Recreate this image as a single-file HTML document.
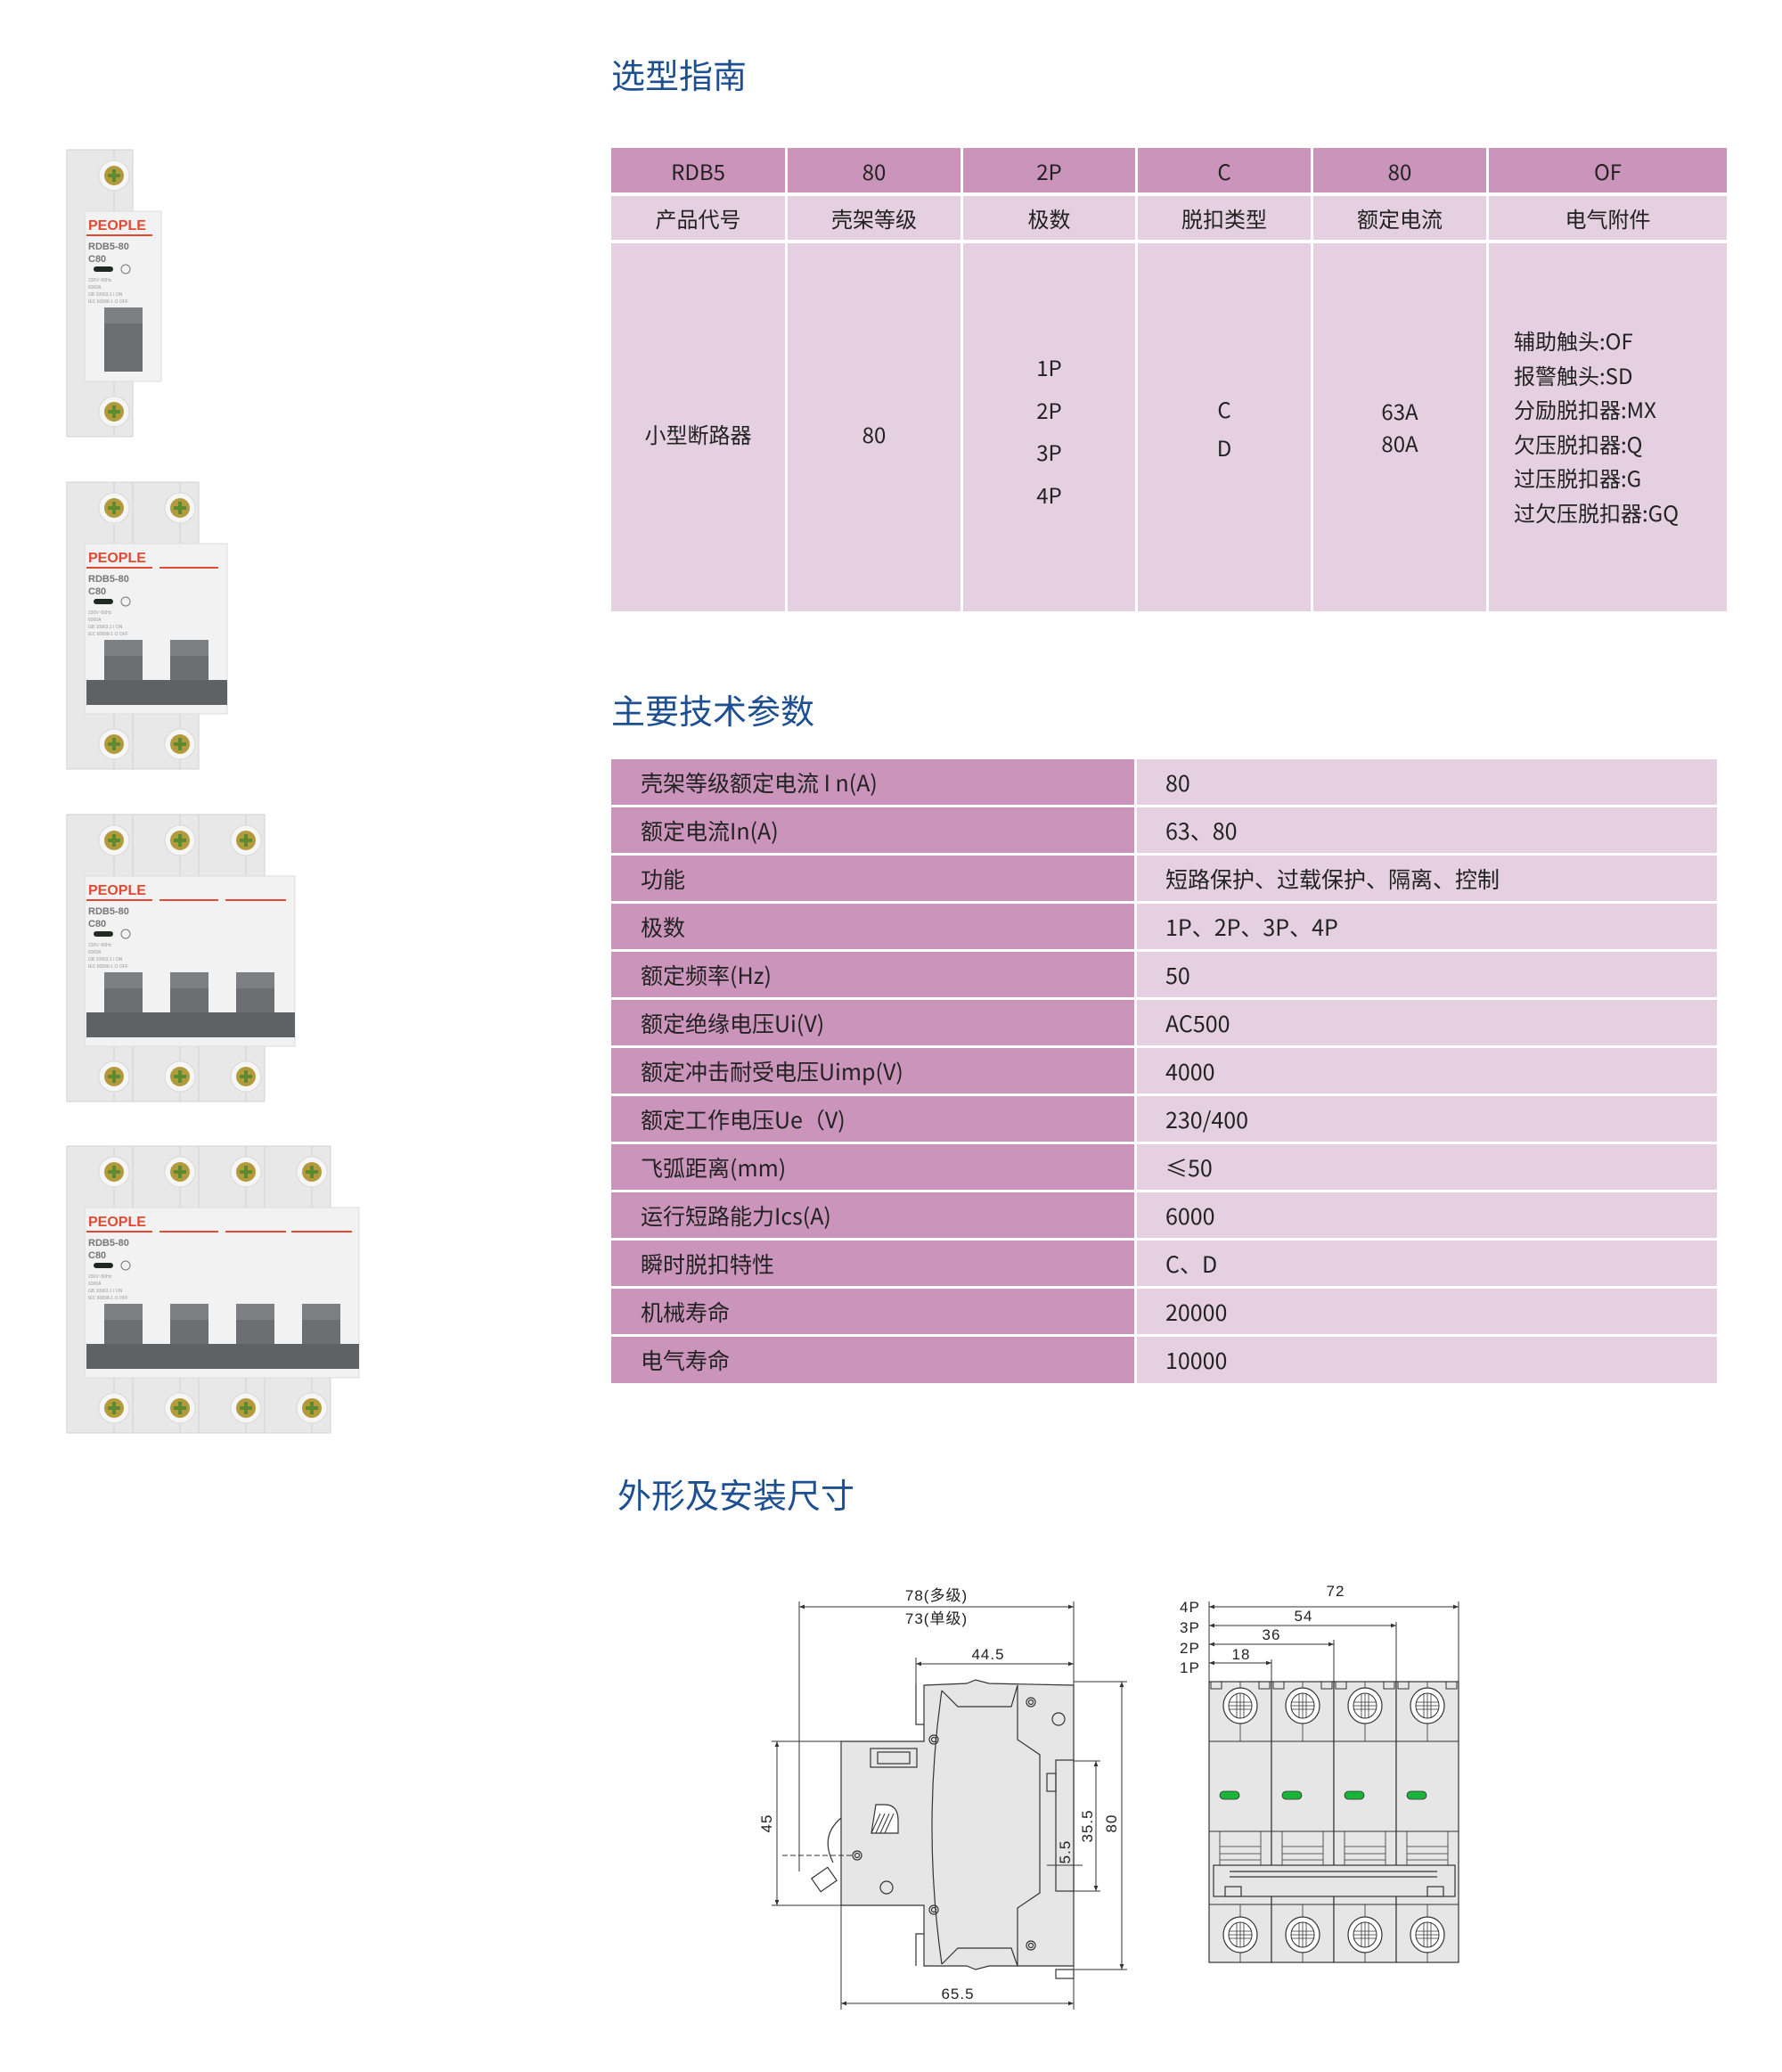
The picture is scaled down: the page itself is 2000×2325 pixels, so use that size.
<!DOCTYPE html>
<html><head><meta charset="utf-8">
<style>
*{margin:0;padding:0;box-sizing:border-box}
body{width:2000px;height:2325px;background:#fff;position:relative;overflow:hidden;font-family:"Liberation Sans","Noto Sans CJK SC",sans-serif;color:#222}
.t{position:absolute;font-size:38px;color:#1d4f91;font-family:"Noto Sans CJK SC","Liberation Sans",sans-serif;line-height:1}
.c{position:absolute;display:flex;align-items:center;justify-content:center;font-size:24px;font-family:"Noto Sans CJK SC","Liberation Sans",sans-serif}
.h{background:#cb95bb}.l{background:#e4d0e0}
.r{position:absolute;display:flex;align-items:center;font-size:25px;font-family:"Noto Sans CJK SC","Liberation Sans",sans-serif}
.a{left:686px;width:587px;background:#cb95bb;padding-left:33px}
.b{left:1276px;width:651px;background:#e4d0e0;padding-left:32px}
.m{position:absolute;font-size:24px;line-height:38.6px;font-family:"Noto Sans CJK SC","Liberation Sans",sans-serif}
</style></head><body>

<div class="t" style="left:686px;top:64px">选型指南</div>
<div class="t" style="left:686px;top:777px">主要技术参数</div>
<div class="t" style="left:693px;top:1657px">外形及安装尺寸</div>

<!-- table 1 -->
<div class="c h" style="left:686px;top:166px;width:195px;height:50px">RDB5</div>
<div class="c h" style="left:884px;top:166px;width:194px;height:50px">80</div>
<div class="c h" style="left:1081px;top:166px;width:193px;height:50px">2P</div>
<div class="c h" style="left:1277px;top:166px;width:194px;height:50px">C</div>
<div class="c h" style="left:1474px;top:166px;width:194px;height:50px">80</div>
<div class="c h" style="left:1671px;top:166px;width:267px;height:50px">OF</div>

<div class="c l" style="left:686px;top:220px;width:195px;height:49px">产品代号</div>
<div class="c l" style="left:884px;top:220px;width:194px;height:49px">壳架等级</div>
<div class="c l" style="left:1081px;top:220px;width:193px;height:49px">极数</div>
<div class="c l" style="left:1277px;top:220px;width:194px;height:49px">脱扣类型</div>
<div class="c l" style="left:1474px;top:220px;width:194px;height:49px">额定电流</div>
<div class="c l" style="left:1671px;top:220px;width:267px;height:49px">电气附件</div>

<div class="c l" style="left:686px;top:273px;width:195px;height:413px;padding-bottom:0">
  <span style="position:relative;top:7px">小型断路器</span></div>
<div class="c l" style="left:884px;top:273px;width:194px;height:413px"><span style="position:relative;top:7px">80</span></div>
<div class="l" style="position:absolute;left:1081px;top:273px;width:193px;height:413px"></div>
<div class="l" style="position:absolute;left:1277px;top:273px;width:194px;height:413px"></div>
<div class="l" style="position:absolute;left:1474px;top:273px;width:194px;height:413px"></div>
<div class="l" style="position:absolute;left:1671px;top:273px;width:267px;height:413px"></div>
<div class="m" style="left:1081px;width:193px;top:388px;text-align:center;line-height:47.6px">1P<br>2P<br>3P<br>4P</div>
<div class="m" style="left:1277px;width:194px;top:437px;text-align:center;line-height:43px">C<br>D</div>
<div class="m" style="left:1474px;width:194px;top:443px;text-align:center;line-height:36px">63A<br>80A</div>
<div class="m" style="left:1699px;top:363px">辅助触头:OF<br>报警触头:SD<br>分励脱扣器:MX<br>欠压脱扣器:Q<br>过压脱扣器:G<br>过欠压脱扣器:GQ</div>

<!-- table 2 -->
<div class="r a" style="top:852px;height:51px">壳架等级额定电流 I n(A)</div><div class="r b" style="top:852px;height:51px">80</div>
<div class="r a" style="top:906px;height:51px">额定电流In(A)</div><div class="r b" style="top:906px;height:51px">63、80</div>
<div class="r a" style="top:960px;height:51px">功能</div><div class="r b" style="top:960px;height:51px">短路保护、过载保护、隔离、控制</div>
<div class="r a" style="top:1014px;height:51px">极数</div><div class="r b" style="top:1014px;height:51px">1P、2P、3P、4P</div>
<div class="r a" style="top:1068px;height:51px">额定频率(Hz)</div><div class="r b" style="top:1068px;height:51px">50</div>
<div class="r a" style="top:1122px;height:51px">额定绝缘电压Ui(V)</div><div class="r b" style="top:1122px;height:51px">AC500</div>
<div class="r a" style="top:1176px;height:51px">额定冲击耐受电压Uimp(V)</div><div class="r b" style="top:1176px;height:51px">4000</div>
<div class="r a" style="top:1230px;height:51px">额定工作电压Ue（V)</div><div class="r b" style="top:1230px;height:51px">230/400</div>
<div class="r a" style="top:1284px;height:51px">飞弧距离(mm)</div><div class="r b" style="top:1284px;height:51px">≤50</div>
<div class="r a" style="top:1338px;height:51px">运行短路能力Ics(A)</div><div class="r b" style="top:1338px;height:51px">6000</div>
<div class="r a" style="top:1392px;height:51px">瞬时脱扣特性</div><div class="r b" style="top:1392px;height:51px">C、D</div>
<div class="r a" style="top:1446px;height:51px">机械寿命</div><div class="r b" style="top:1446px;height:51px">20000</div>
<div class="r a" style="top:1500px;height:52px">电气寿命</div><div class="r b" style="top:1500px;height:52px">10000</div>

<svg width="2000" height="2325" style="position:absolute;left:0;top:0" xmlns="http://www.w3.org/2000/svg">
<defs>
  <g id="pole">
    <rect x="0" y="0" width="74" height="322" fill="#e8e8e9" stroke="#d2d2d4"/>
    <line x1="53" y1="0" x2="53" y2="69" stroke="#d0d0d0"/>
    <line x1="53" y1="260" x2="53" y2="322" stroke="#d0d0d0"/>
    <circle cx="53" cy="29" r="17" fill="#f6f6f6" stroke="#d8d8d8"/>
    <circle cx="53" cy="29" r="11" fill="#b39a3c"/>
    <path d="M46 29h14M53 22v14" stroke="#5c8a2e" stroke-width="4"/>
    <circle cx="53" cy="294" r="17" fill="#f6f6f6" stroke="#d8d8d8"/>
    <circle cx="53" cy="294" r="11" fill="#b39a3c"/>
    <path d="M46 294h14M53 287v14" stroke="#5c8a2e" stroke-width="4"/>
  </g>
  <g id="handle">
    <rect x="42" y="177" width="43" height="72" fill="#6c6f71"/>
    <rect x="42" y="177" width="43" height="18" fill="#7d8082"/>
  </g>
  <g id="label">
    <text x="24" y="90" font-family="Liberation Sans" font-weight="bold" font-size="16" fill="#e04a33">PEOPLE</text>
    <line x1="22" y1="96" x2="96" y2="96" stroke="#e04a33" stroke-width="2"/>
    <text x="24" y="112" font-family="Liberation Sans" font-weight="bold" font-size="11" fill="#777">RDB5-80</text>
    <text x="24" y="126" font-family="Liberation Sans" font-weight="bold" font-size="11" fill="#777">C80</text>
    <rect x="30" y="131" width="22" height="6" rx="3" fill="#1e2a22"/>
    <circle cx="66" cy="134" r="5" fill="none" stroke="#777"/>
    <text x="24" y="148" font-family="Liberation Sans" font-size="5" fill="#999">230V~50Hz</text>
    <text x="24" y="156" font-family="Liberation Sans" font-size="5" fill="#999">6000A</text>
    <text x="24" y="164" font-family="Liberation Sans" font-size="5" fill="#999">GB 10963.1  I ON</text>
    <text x="24" y="172" font-family="Liberation Sans" font-size="5" fill="#999">IEC 60898-1 O OFF</text>
  </g>
  <marker id="ar" viewBox="0 0 10 10" refX="10" refY="5" markerWidth="9" markerHeight="6" orient="auto-start-reverse" markerUnits="userSpaceOnUse">
    <path d="M0 1L10 5L0 9z" fill="#333"/>
  </marker>
  <g id="rpole">
    <rect x="0" y="0" width="70" height="315" fill="#e6e6e6" stroke="#333" stroke-width="1.2"/>
    <line x1="0" y1="67" x2="70" y2="67" stroke="#333"/>
    <line x1="0" y1="168" x2="70" y2="168" stroke="#333"/>
    <line x1="0" y1="250" x2="70" y2="250" stroke="#333"/>
    <line x1="35" y1="0" x2="35" y2="67" stroke="#333" stroke-width=".8"/>
    <line x1="35" y1="250" x2="35" y2="315" stroke="#333" stroke-width=".8"/>
    <path d="M2 0v8h12v-8M56 0v8h12v-8" fill="none" stroke="#333"/>
    <ellipse cx="35" cy="27" rx="19" ry="20" fill="#fff" stroke="#333" stroke-width="1.2"/>
    <ellipse cx="35" cy="27" rx="13" ry="14" fill="none" stroke="#333"/>
    <path d="M22 27h26M35 13v28M22 23h26M22 31h26M31 13v28M39 13v28" stroke="#333" stroke-width=".8"/>
    <ellipse cx="35" cy="284" rx="19" ry="20" fill="#fff" stroke="#333" stroke-width="1.2"/>
    <ellipse cx="35" cy="284" rx="13" ry="14" fill="none" stroke="#333"/>
    <path d="M22 284h26M35 270v28M22 280h26M22 288h26M31 270v28M39 270v28" stroke="#333" stroke-width=".8"/>
    <rect x="12" y="123" width="22" height="9" rx="4.5" fill="#1bb43a" stroke="#333" stroke-width=".8"/>
    <path d="M12 168v38M58 168v38M12 185h46M12 193h46M12 200h46" stroke="#333" stroke-width=".8" fill="none"/>
  </g>
</defs>

<!-- product photos -->
<g transform="translate(75,168)"><rect x="20" y="69" width="86" height="191" fill="#f2f2f2" stroke="#dcdcdc"/><use href="#pole"/><rect x="20" y="69" width="86" height="191" fill="#f2f2f2" stroke="#dcdcdc"/><use href="#handle"/><use href="#label"/></g>

<g transform="translate(75,541)"><use href="#pole"/><use href="#pole" x="74"/>
<rect x="20" y="69" width="160" height="191" fill="#f2f2f2" stroke="#dcdcdc"/>
<use href="#handle"/><use href="#handle" x="74"/><rect x="22" y="222" width="158" height="28" fill="#5f6264"/><use href="#label"/>
<line x1="104" y1="96" x2="170" y2="96" stroke="#e04a33" stroke-width="2"/></g>

<g transform="translate(75,914)"><use href="#pole"/><use href="#pole" x="74"/><use href="#pole" x="148"/>
<rect x="20" y="69" width="236" height="191" fill="#f2f2f2" stroke="#dcdcdc"/>
<use href="#handle"/><use href="#handle" x="74"/><use href="#handle" x="148"/><rect x="22" y="222" width="234" height="28" fill="#5f6264"/><use href="#label"/>
<line x1="104" y1="96" x2="170" y2="96" stroke="#e04a33" stroke-width="2"/><line x1="178" y1="96" x2="246" y2="96" stroke="#e04a33" stroke-width="2"/></g>

<g transform="translate(75,1286)"><use href="#pole"/><use href="#pole" x="74"/><use href="#pole" x="148"/><use href="#pole" x="222"/>
<rect x="20" y="69" width="308" height="191" fill="#f2f2f2" stroke="#dcdcdc"/>
<use href="#handle"/><use href="#handle" x="74"/><use href="#handle" x="148"/><use href="#handle" x="222"/><rect x="22" y="222" width="306" height="28" fill="#5f6264"/><use href="#label"/>
<line x1="104" y1="96" x2="170" y2="96" stroke="#e04a33" stroke-width="2"/><line x1="178" y1="96" x2="246" y2="96" stroke="#e04a33" stroke-width="2"/><line x1="252" y1="96" x2="320" y2="96" stroke="#e04a33" stroke-width="2"/></g>

<!-- side view drawing -->
<g stroke="#333" fill="none" stroke-width="1.2">
  <path d="M1037 1891L1085 1889L1095 1885L1110 1889L1205 1891V2206L1110 2206L1095 2210L1085 2206L1037 2206V2138H944V1954H1037Z" fill="#e6e6e6"/>
  <path d="M1057 1897Q1035 2050 1057 2204" />
  <path d="M1057 1897L1075 1915H1135L1142 1891"/>
  <path d="M1142 1891V1952L1167 1969V2124L1142 2141V2206"/>
  <path d="M1057 2204L1075 2186H1135L1142 2206"/>
  <rect x="977" y="1962" width="52" height="21"/>
  <rect x="985" y="1966" width="36" height="13"/>
  <rect x="1185" y="1975" width="20" height="147" fill="#e6e6e6"/>
  <rect x="1175" y="1990" width="10" height="20"/>
  <rect x="1185" y="2210" width="20" height="10"/>
  <circle cx="1157" cy="1910" r="5"/><circle cx="1157" cy="1910" r="2.5"/>
  <circle cx="1048" cy="1952" r="5"/><circle cx="1048" cy="1952" r="2.5"/>
  <circle cx="962" cy="2082" r="5"/><circle cx="962" cy="2082" r="2.5"/>
  <circle cx="1048" cy="2143" r="5"/><circle cx="1048" cy="2143" r="2.5"/>
  <circle cx="1157" cy="2183" r="5"/><circle cx="1157" cy="2183" r="2.5"/>
  <circle cx="1188" cy="1929" r="7"/><circle cx="995" cy="2118" r="7"/>
  <path d="M944 2040Q920 2060 935 2090"/>
  <rect x="914" y="2100" width="22" height="18" transform="rotate(-35 925 2109)" fill="#fff"/>
  <g transform="translate(978,2025)"><path d="M5 0h10q15 0 15 18v14h-30z" fill="#fff"/><path d="M0 32l10-22M5 32l10-22M10 32l10-22M15 32l10-22" stroke-width="1"/></g>
  <path d="M1028 1889V1935H1037"/>
  <path d="M1028 2206V2170H1037"/>
</g>
<g stroke="#333" stroke-width="1" fill="none">
  <line x1="897" y1="1797" x2="897" y2="2100"/>
  <line x1="1205" y1="1797" x2="1205" y2="2255"/>
  <line x1="897" y1="1803" x2="1205" y2="1803" marker-start="url(#ar)" marker-end="url(#ar)"/>
  <line x1="1028" y1="1860" x2="1028" y2="1889"/>
  <line x1="1028" y1="1867" x2="1205" y2="1867" marker-start="url(#ar)" marker-end="url(#ar)"/>
  <line x1="944" y1="2138" x2="944" y2="2255"/>
  <line x1="944" y1="2248" x2="1205" y2="2248" marker-start="url(#ar)" marker-end="url(#ar)"/>
  <line x1="866" y1="1954" x2="944" y2="1954"/><line x1="866" y1="2138" x2="944" y2="2138"/>
  <line x1="872" y1="1954" x2="872" y2="2138" marker-start="url(#ar)" marker-end="url(#ar)"/>
  <line x1="1205" y1="1887" x2="1265" y2="1887"/><line x1="1205" y1="2210" x2="1265" y2="2210"/>
  <line x1="1259" y1="1887" x2="1259" y2="2210" marker-start="url(#ar)" marker-end="url(#ar)"/>
  <line x1="1205" y1="1976" x2="1235" y2="1976"/><line x1="1205" y1="2122" x2="1235" y2="2122"/>
  <line x1="1230" y1="1976" x2="1230" y2="2122" marker-start="url(#ar)" marker-end="url(#ar)"/>
  <line x1="1175" y1="2093" x2="1215" y2="2093"/>
  <line x1="878" y1="2082" x2="957" y2="2082" stroke-dasharray="6 3"/>
</g>
<g font-family="Liberation Sans,Noto Sans CJK SC,sans-serif" font-size="17" fill="#222" text-anchor="middle" letter-spacing="1">
  <text x="1051" y="1796">78(多级)</text>
  <text x="1051" y="1822">73(单级)</text>
  <text x="1109" y="1862">44.5</text>
  <text x="1075" y="2243">65.5</text>
  <text transform="translate(866,2046) rotate(-90)">45</text>
  <text transform="translate(1253,2046) rotate(-90)">80</text>
  <text transform="translate(1226,2049) rotate(-90)">35.5</text>
  <text transform="translate(1201,2078) rotate(-90)">5.5</text>
</g>

<!-- front view drawing -->
<use href="#rpole" x="1357" y="1887"/>
<use href="#rpole" x="1427" y="1887"/>
<use href="#rpole" x="1497" y="1887"/>
<use href="#rpole" x="1567" y="1887"/>
<g stroke="#333" fill="#e6e6e6" stroke-width="1.2">
  <rect x="1362" y="2093" width="271" height="35"/>
  <line x1="1380" y1="2100" x2="1613" y2="2100"/>
  <line x1="1380" y1="2106" x2="1613" y2="2106"/>
  <rect x="1375" y="2117" width="18" height="11"/>
  <rect x="1602" y="2117" width="18" height="11"/>
</g>
<g stroke="#333" stroke-width="1" fill="none">
  <line x1="1357" y1="1797" x2="1357" y2="1887"/>
  <line x1="1427" y1="1862" x2="1427" y2="1887"/>
  <line x1="1497" y1="1840" x2="1497" y2="1887"/>
  <line x1="1567" y1="1820" x2="1567" y2="1887"/>
  <line x1="1637" y1="1797" x2="1637" y2="1887"/>
  <line x1="1357" y1="1803" x2="1637" y2="1803" marker-start="url(#ar)" marker-end="url(#ar)"/>
  <line x1="1357" y1="1824" x2="1567" y2="1824" marker-start="url(#ar)" marker-end="url(#ar)"/>
  <line x1="1357" y1="1845" x2="1497" y2="1845" marker-start="url(#ar)" marker-end="url(#ar)"/>
  <line x1="1357" y1="1866" x2="1427" y2="1866" marker-start="url(#ar)" marker-end="url(#ar)"/>
</g>
<g font-family="Liberation Sans,sans-serif" font-size="17" fill="#222" letter-spacing="1">
  <text x="1499" y="1791" text-anchor="middle">72</text>
  <text x="1463" y="1819" text-anchor="middle">54</text>
  <text x="1427" y="1840" text-anchor="middle">36</text>
  <text x="1393" y="1862" text-anchor="middle">18</text>
  <text x="1324" y="1809">4P</text>
  <text x="1324" y="1832">3P</text>
  <text x="1324" y="1855">2P</text>
  <text x="1324" y="1877">1P</text>
</g>
</svg>
</body></html>
